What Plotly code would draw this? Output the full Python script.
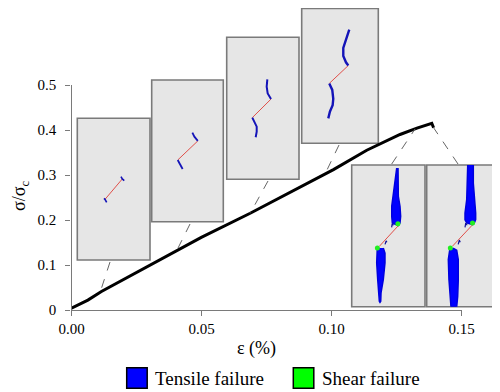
import numpy as np
import plotly.graph_objects as go

# ---------------- data ----------------
strain = [0.0, 0.0025, 0.0063, 0.0115, 0.0243, 0.0371, 0.0499, 0.0687,
          0.0892, 0.1007, 0.1135, 0.1263, 0.1328, 0.1385, 0.1392]
stress = [0.004, 0.011, 0.022, 0.041, 0.0815, 0.122, 0.1615, 0.215,
          0.278, 0.312, 0.355, 0.390, 0.404, 0.415, 0.405]

x_ticks = [0.0, 0.05, 0.10, 0.15]
x_tick_labels = ["0.00", "0.05", "0.10", "0.15"]
y_ticks = [0.0, 0.1, 0.2, 0.3, 0.4, 0.5]
y_tick_labels = ["0", "0.1", "0.2", "0.3", "0.4", "0.5"]

legend_labels = ["Tensile failure", "Shear failure"]

# strain of each crack snapshot (where its leader line meets the curve)
snapshot_strain = [0.011, 0.0405, 0.0687, 0.0975, 0.1321, 0.1392]

# crack geometry inside each snapshot, local (0..1) coordinates
c1_blue = [[(0.601, 0.588), (0.619, 0.572), (0.646, 0.560)],
           [(0.367, 0.435), (0.381, 0.428), (0.404, 0.407)]]
c1_red = [(0.381, 0.428), (0.619, 0.572)]

c2_blue = [[(0.568, 0.628), (0.596, 0.600), (0.644, 0.570)],
           [(0.363, 0.435), (0.394, 0.405), (0.432, 0.372)]]
c2_red = [(0.644, 0.570), (0.363, 0.435)]

c3_blue = [[(0.562, 0.704), (0.553, 0.652), (0.567, 0.605), (0.589, 0.582), (0.613, 0.565)],
           [(0.354, 0.434), (0.382, 0.406), (0.415, 0.371), (0.415, 0.335), (0.401, 0.296)]]
c3_red = [(0.613, 0.565), (0.354, 0.434)]

c4_blue = [[(0.621, 0.844), (0.587, 0.778), (0.543, 0.707), (0.543, 0.648), (0.578, 0.601), (0.608, 0.577)],
           [(0.360, 0.444), (0.399, 0.396), (0.412, 0.330), (0.404, 0.283), (0.369, 0.236), (0.347, 0.185)]]
c4_red = [(0.608, 0.577), (0.360, 0.444)]

c5_blob = [[(0.614, 0.979), (0.591, 0.896), (0.568, 0.779), (0.546, 0.709), (0.546, 0.638),
            (0.554, 0.591), (0.636, 0.572), (0.659, 0.591), (0.668, 0.638), (0.659, 0.709),
            (0.636, 0.779), (0.632, 0.894), (0.632, 0.979)],
           [(0.349, 0.414), (0.341, 0.308), (0.355, 0.191), (0.363, 0.097), (0.377, 0.038),
            (0.386, 0.030), (0.396, 0.038), (0.400, 0.097), (0.431, 0.191), (0.454, 0.308),
            (0.454, 0.379), (0.431, 0.414)]]
c5_red = [(0.636, 0.572), (0.377, 0.426)]
c5_green = [(0.630, 0.585), (0.350, 0.414)]
c5_hooks = [[(0.545, 0.560), (0.552, 0.585), (0.570, 0.575)],
            [(0.455, 0.440), (0.470, 0.465), (0.480, 0.455)]]

c6_blob = [[(0.573, 1.0), (0.567, 0.873), (0.559, 0.755), (0.535, 0.661), (0.535, 0.614),
            (0.559, 0.591), (0.642, 0.579), (0.665, 0.591), (0.684, 0.614), (0.684, 0.661),
            (0.665, 0.755), (0.651, 0.873), (0.651, 1.0)],
           [(0.325, 0.414), (0.302, 0.332), (0.311, 0.191), (0.325, 0.073), (0.339, 0.0),
            (0.419, 0.0), (0.433, 0.073), (0.441, 0.191), (0.441, 0.332), (0.419, 0.398),
            (0.367, 0.414)]]
c6_red = [(0.642, 0.579), (0.358, 0.426)]
c6_green = [(0.640, 0.590), (0.330, 0.414)]
c6_hooks = [[(0.535, 0.560), (0.545, 0.590), (0.565, 0.575)],
            [(0.440, 0.440), (0.455, 0.470), (0.468, 0.455)]]

# ---------------- layout (window pixels) ----------------
OFF = 8                      # page body margin
W, H = 500 - OFF, 392 - OFF
PX0, PX1 = 71.5, 461.7
PY_BOT, PY_TOP = 310, 85
XR = [0, 0.15]
YR = [0, 0.5]

def fx(p):
    return (p - OFF) / W

def fy(p):
    return (H - (p - OFF)) / H

xdom = [fx(PX0), fx(PX1)]
ydom = [fy(PY_BOT), fy(PY_TOP)]

def data_to_paper(ex, sy):
    px = xdom[0] + (ex - XR[0]) / (XR[1] - XR[0]) * (xdom[1] - xdom[0])
    py = ydom[0] + (sy - YR[0]) / (YR[1] - YR[0]) * (ydom[1] - ydom[0])
    return px, py

boxes = [(77.3, 118.3, 150.0, 260.0),
         (151.7, 80.0, 223.3, 221.7),
         (226.7, 37.3, 299.0, 179.3),
         (301.7, 8.5, 378.3, 143.3),
         (351.7, 165.0, 425.0, 306.7),
         (426.7, 165.0, 498.3, 306.7)]
leader_start = [(110, 262), (190, 224), (268, 181), (339, 145), (391.7, 164), (458, 164)]

FONT = "Liberation Serif, Times New Roman, serif"
BLUE_DARK = "#1414b8"
BLUE = "#0000ff"
RED = "#e0504a"
GREEN = "#22ee22"

fig = go.Figure()
fig.add_trace(go.Scatter(x=strain, y=stress, mode="lines",
                         line=dict(color="black", width=3), showlegend=False,
                         hoverinfo="skip"))

shapes = []
annotations = []

for (L, T, R, B) in boxes:
    shapes.append(dict(type="rect", xref="paper", yref="paper",
                       x0=fx(L), x1=fx(R), y0=fy(B), y1=fy(T),
                       fillcolor="#e6e6e6", line=dict(color="#7a7a7a", width=1.6),
                       layer="below"))

for (sx, sy), e in zip(leader_start, snapshot_strain):
    s = float(np.interp(e, strain, stress))
    ex, ey = data_to_paper(e, s)
    shapes.append(dict(type="line", xref="paper", yref="paper",
                       x0=fx(sx), y0=fy(sy), x1=ex, y1=ey,
                       line=dict(color="#666666", width=1, dash="dash")))

layout_axes = {}

def add_inset_axes(i, box):
    L, T, R, B = box
    n = i + 2
    layout_axes[f"xaxis{n}"] = dict(domain=[fx(L), fx(R)], range=[0, 1], visible=False,
                                    anchor=f"y{n}", fixedrange=True)
    layout_axes[f"yaxis{n}"] = dict(domain=[fy(B), fy(T)], range=[0, 1], visible=False,
                                    anchor=f"x{n}", fixedrange=True)
    return f"x{n}", f"y{n}"

def line_trace(pts, xa, ya, color, width):
    return go.Scatter(x=[p[0] for p in pts], y=[p[1] for p in pts], mode="lines",
                      line=dict(color=color, width=width), xaxis=xa, yaxis=ya,
                      showlegend=False, hoverinfo="skip")

thin_sets = [(c1_blue, c1_red, 1.6), (c2_blue, c2_red, 1.8),
             (c3_blue, c3_red, 2.0), (c4_blue, c4_red, 2.4)]
for i, (blues, red, bw) in enumerate(thin_sets):
    xa, ya = add_inset_axes(i, boxes[i])
    fig.add_trace(line_trace(red, xa, ya, RED, 1))
    for b in blues:
        fig.add_trace(line_trace(b, xa, ya, BLUE_DARK, bw))

blob_sets = [(c5_blob, c5_red, c5_green, c5_hooks), (c6_blob, c6_red, c6_green, c6_hooks)]
for j, (blobs, red, greens, hooks) in enumerate(blob_sets):
    i = 4 + j
    xa, ya = add_inset_axes(i, boxes[i])
    for b in blobs:
        fig.add_trace(go.Scatter(x=[p[0] for p in b], y=[p[1] for p in b], mode="lines",
                                 fill="toself", fillcolor=BLUE,
                                 line=dict(color="#0000dd", width=1.5),
                                 xaxis=xa, yaxis=ya, showlegend=False, hoverinfo="skip"))
    for hk in hooks:
        fig.add_trace(line_trace(hk, xa, ya, "#10109a", 1.2))
    fig.add_trace(line_trace(red, xa, ya, RED, 1))
    fig.add_trace(go.Scatter(x=[p[0] for p in greens], y=[p[1] for p in greens], mode="markers",
                             marker=dict(color=GREEN, size=5, line=dict(width=0)),
                             xaxis=xa, yaxis=ya, showlegend=False, hoverinfo="skip"))

legend_colors = [BLUE, "#00ff00"]
legend_sq_x = [126.7, 293.3]
for lbl, col, sx in zip(legend_labels, legend_colors, legend_sq_x):
    shapes.append(dict(type="rect", xref="paper", yref="paper",
                       x0=fx(sx), x1=fx(sx + 20.5), y0=fy(388.3), y1=fy(367.7),
                       fillcolor=col, line=dict(color="black", width=1.5)))
    annotations.append(dict(text=lbl, x=fx(sx + 26.5), y=fy(378.5), xref="paper", yref="paper",
                            xanchor="left", yanchor="middle", showarrow=False,
                            font=dict(family=FONT, size=19, color="black")))

annotations.append(dict(text="ε (%)", x=fx(256.7), y=fy(348), xref="paper", yref="paper",
                        xanchor="center", yanchor="middle", showarrow=False,
                        font=dict(family=FONT, size=18, color="black")))
annotations.append(dict(text="σ/σ<sub>c</sub>", x=fx(20), y=fy(196), xref="paper", yref="paper",
                        xanchor="center", yanchor="middle", showarrow=False, textangle=-90,
                        font=dict(family=FONT, size=18, color="black")))

axis_common = dict(showline=True, linecolor="#7a7a7a", linewidth=1.3, ticks="outside",
                   ticklen=5, tickcolor="#7a7a7a", tickwidth=1.3, showgrid=False,
                   zeroline=False, automargin=False,
                   tickfont=dict(family=FONT, size=15, color="black"))

fig.update_layout(
    width=W, height=H,
    margin=dict(l=0, r=0, t=0, b=0),
    paper_bgcolor="white", plot_bgcolor="rgba(0,0,0,0)",
    showlegend=False,
    xaxis=dict(domain=xdom, range=XR, tickvals=x_ticks, ticktext=x_tick_labels,
               anchor="y", **axis_common),
    yaxis=dict(domain=ydom, range=YR, tickvals=y_ticks, ticktext=y_tick_labels,
               anchor="x", ticklabelstandoff=6, **axis_common),
    shapes=shapes,
    annotations=annotations,
    **layout_axes,
)

fig.write_html("out.html")
